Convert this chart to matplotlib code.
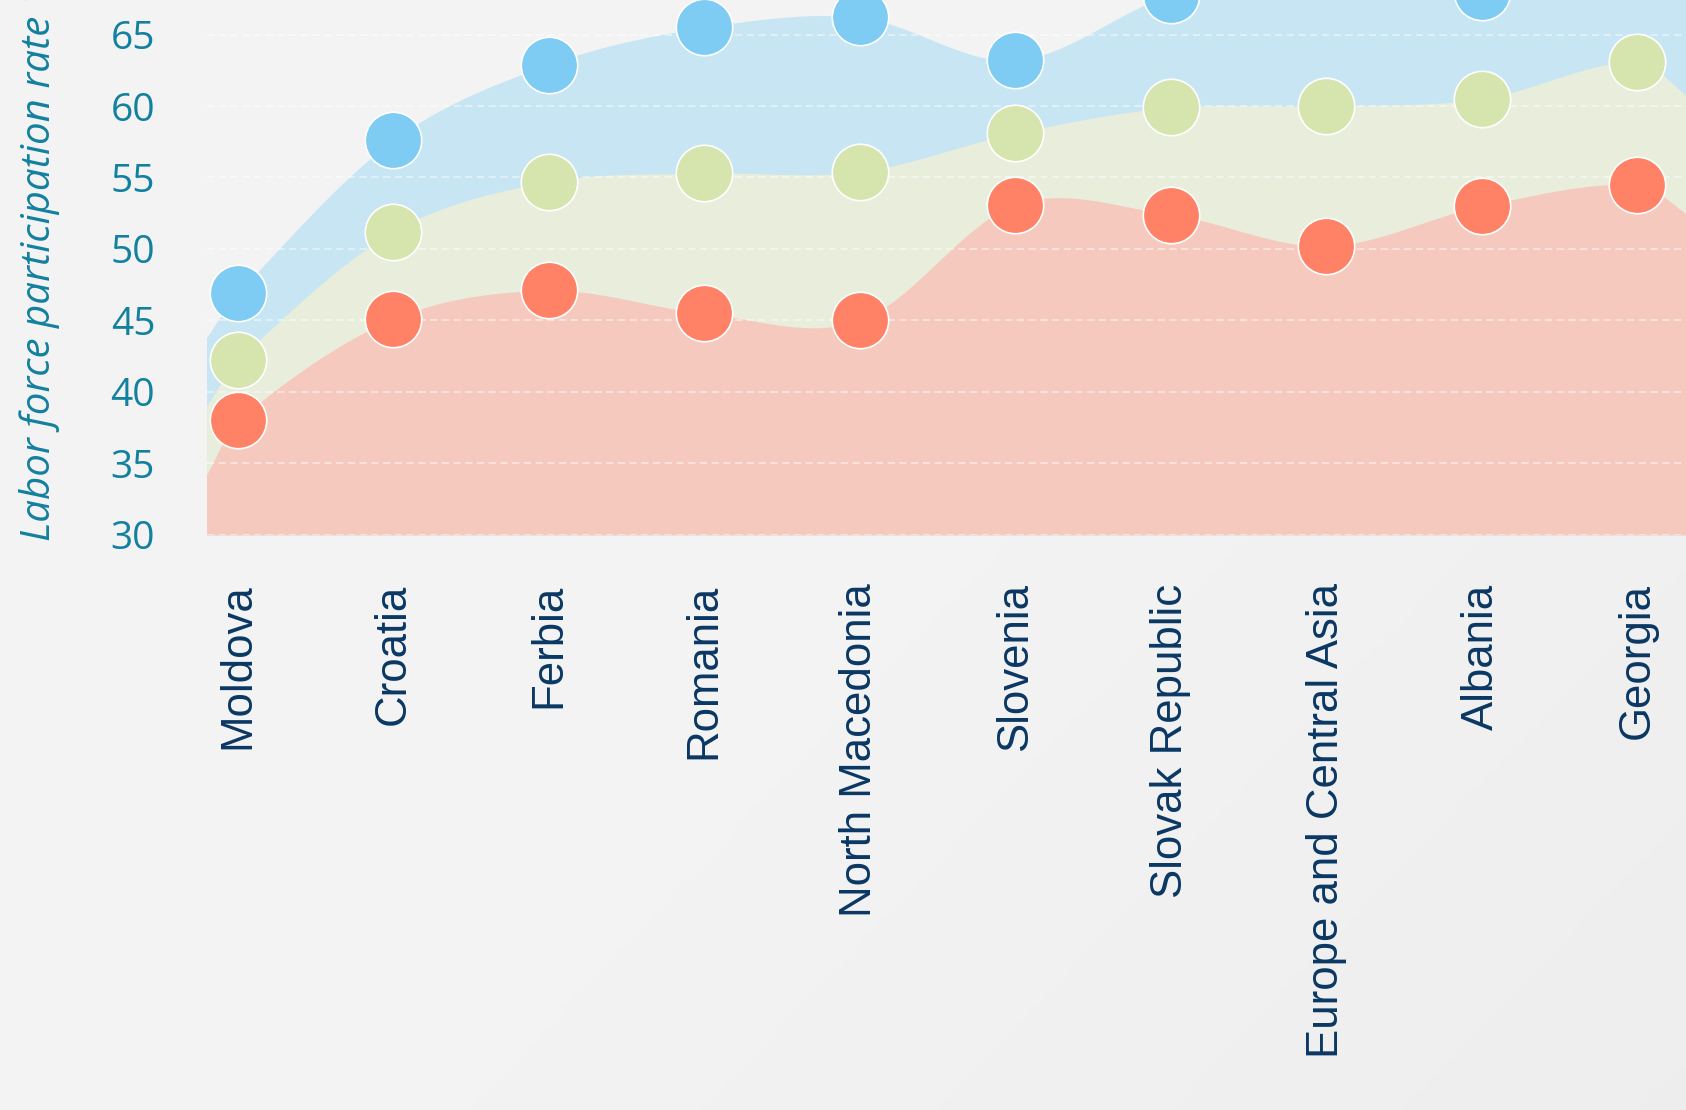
import numpy as np
import matplotlib
matplotlib.use('Agg')
import matplotlib.pyplot as plt

# Data
categories = ['Moldova', 'Croatia', 'Ferbia', 'Romania', 'North Macedonia',
              'Slovenia', 'Slovak Republic', 'Europe and Central Asia',
              'Albania', 'Georgia']
blue_values = [46.9, 57.6, 62.9, 65.5, 66.2, 63.2, 67.8, 70.0, 68.0, 70.5]
green_values = [42.2, 51.2, 54.7, 55.3, 55.4, 58.1, 59.9, 60.0, 60.5, 63.1]
red_values = [38.0, 45.1, 47.1, 45.5, 45.0, 53.1, 52.4, 50.2, 53.0, 54.5]

# where each area meets the left and right edges of the picture
edge_x = [-0.2, 9.35]
blue_edges = [43.8, 68.5]
green_edges = [39.0, 60.4]
red_edges = [34.2, 52.2]

y_ticks = [30, 35, 40, 45, 50, 55, 60, 65]
y_label = 'Labor force participation rate 15+ (%)'

BG = '#f4f4f4'
TICK_COLOR = '#12809f'
CAT_COLOR = '#0a3763'


def smooth_curve(xs, ys, steps=60):
    """
    Cardinal (Hermite) spline through the given points.
    """
    xs = np.asarray(xs, dtype=float)
    ys = np.asarray(ys, dtype=float)
    n = len(xs)
    m = np.zeros(n)
    m[0] = (ys[1] - ys[0]) / (xs[1] - xs[0])
    m[-1] = (ys[-1] - ys[-2]) / (xs[-1] - xs[-2])
    for i in range(1, n - 1):
        m[i] = (ys[i + 1] - ys[i - 1]) / (xs[i + 1] - xs[i - 1])

    out_x, out_y = [], []
    for i in range(n - 1):
        h = xs[i + 1] - xs[i]
        t = np.linspace(0, 1, steps, endpoint=(i == n - 2))
        h00 = 2 * t ** 3 - 3 * t ** 2 + 1
        h10 = t ** 3 - 2 * t ** 2 + t
        h01 = -2 * t ** 3 + 3 * t ** 2
        h11 = t ** 3 - t ** 2
        out_x.append(xs[i] + t * h)
        out_y.append(h00 * ys[i] + h10 * h * m[i] + h01 * ys[i + 1] + h11 * h * m[i + 1])
    return np.concatenate(out_x), np.concatenate(out_y)


fig = plt.figure(figsize=(16.86, 11.10), dpi=100)
fig.patch.set_facecolor(BG)

# soft background gradient
bg_ax = fig.add_axes([0, 0, 1, 1], zorder=-10)
gx, gy = np.meshgrid(np.linspace(0, 1, 300), np.linspace(0, 1, 200))
shade = 0.957 - 0.035 * np.clip(gx * 0.8 + gy * 0.5 - 0.5, 0, 1)
bg_ax.imshow(shade, cmap='gray', vmin=0, vmax=1, aspect='auto', extent=[0, 1, 0, 1])
bg_ax.axis('off')

# axes run past the top and right edges of the picture
ax = fig.add_axes([0.1225, 0.5182, 0.9040, 0.5408])
ax.set_facecolor('none')
ax.set_xlim(-0.2, 9.6)
ax.set_ylim(30, 72)

x = np.arange(len(categories))
series = [
    (blue_values, blue_edges, '#c8e5f3', '#7ecbf4'),
    (green_values, green_edges, '#e8eedb', '#d6e4ad'),
    (red_values, red_edges, '#f6c9bf', '#ff8166'),
]

for values, edges, fill_color, dot_color in series:
    xs = [edge_x[0]] + list(x) + [edge_x[1]]
    ys = [edges[0]] + list(values) + [edges[1]]
    cx, cy = smooth_curve(xs, ys)
    ax.fill_between(cx, 30, cy, color=fill_color, linewidth=0, zorder=1)

for values, edges, fill_color, dot_color in series:
    ax.scatter(x, values, s=1650, color=dot_color, edgecolor='white',
               linewidth=1.2, zorder=5, clip_on=False)

ax.set_yticks(y_ticks)
ax.yaxis.grid(True, color='white', linestyle=(0, (4, 2.5)), linewidth=1.3, alpha=0.5)
for line in ax.get_ygridlines():
    line.set_zorder(2)
ax.tick_params(axis='y', length=0, pad=37, labelsize=28, labelcolor=TICK_COLOR)
for lbl in ax.get_yticklabels():
    lbl.set_fontfamily('Open Sans')

ax.set_xticks(x)
ax.set_xticklabels(categories, rotation=90, fontsize=31.5, color=CAT_COLOR,
                   fontfamily='Liberation Sans')
ax.tick_params(axis='x', length=0, pad=35)

for spine in ax.spines.values():
    spine.set_visible(False)

fig.text(40 / 1686, 1 - 541 / 1110, y_label, rotation=90, ha='center', va='bottom',
         fontsize=29, fontstyle='italic', color=TICK_COLOR, fontfamily='Open Sans')

fig.savefig('out.png', dpi=100, facecolor=fig.get_facecolor())
